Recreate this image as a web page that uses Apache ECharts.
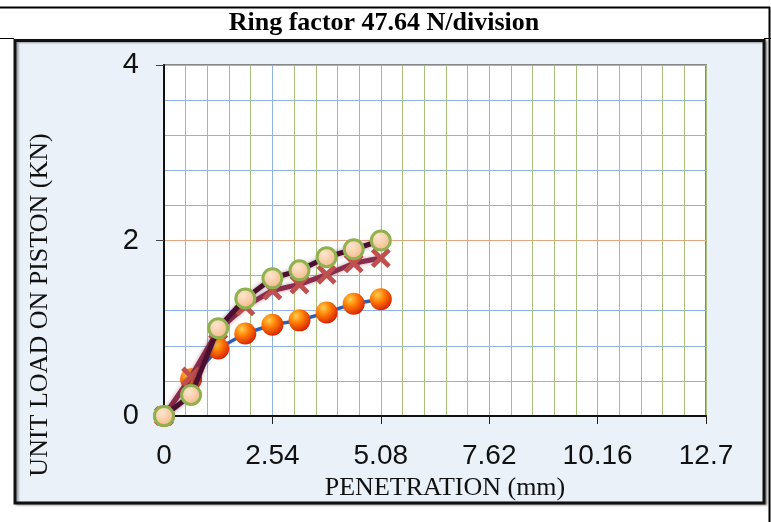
<!DOCTYPE html>
<html><head><meta charset="utf-8">
<script src="https://cdn.jsdelivr.net/npm/echarts@6/dist/echarts.min.js"></script>
<style>html,body{margin:0;padding:0;background:#fff}#c{width:771px;height:522px}</style>
</head><body><div id="c"></div>
<script>
var titleText = 'Ring factor 47.64 N/division';
var xTitle = 'PENETRATION (mm)';
var yTitle = 'UNIT LOAD ON PISTON (KN)';
var penetration = [0, 0.635, 1.27, 1.905, 2.54, 3.175, 3.81, 4.445, 5.08];
var loadA = [0, 0.24, 1.00, 1.34, 1.57, 1.66, 1.81, 1.90, 2.00];
var loadB = [0, 0.45, 0.98, 1.25, 1.43, 1.50, 1.61, 1.74, 1.80];
var loadC = [0, 0.42, 0.77, 0.94, 1.04, 1.09, 1.18, 1.28, 1.33];
var xTicks = [0, 2.54, 5.08, 7.62, 10.16, 12.7];
var yTicks = [0, 2, 4];

function pairs(xs, ys){ return xs.map(function(x,i){ return [x, ys[i]]; }); }

var xGridColors = [];
for (var i = 0; i <= 25; i++) xGridColors.push((i === 5 || i === 15) ? '#8fb2e0' : '#a7bf78');
var yGridColors = [];
for (var j = 0; j <= 10; j++) yGridColors.push(j === 5 ? '#e2a680' : '#8fb4e3');

var chart = echarts.init(document.getElementById('c'), null, {renderer: 'canvas'});
var sans = '"Liberation Sans", Arial, sans-serif';
var serif = '"Liberation Serif", "Times New Roman", serif';
var xPath = 'path://M0,1.7 L1.7,0 L5,3.3 L8.3,0 L10,1.7 L6.7,5 L10,8.3 L8.3,10 L5,6.7 L1.7,10 L0,8.3 L3.3,5 Z';

chart.setOption({
  animation: false,
  backgroundColor: '#fff',
  graphic: [
    {type: 'line', shape: {x1: 0, y1: 7.5, x2: 770, y2: 7.5}, style: {stroke: '#000', lineWidth: 2}, z: 0},
    {type: 'line', shape: {x1: 769.5, y1: 7, x2: 769.5, y2: 522}, style: {stroke: '#000', lineWidth: 2}, z: 0},
    {type: 'line', shape: {x1: 0, y1: 38.5, x2: 14, y2: 38.5}, style: {stroke: '#000', lineWidth: 1}, z: 0},
    {type: 'line', shape: {x1: 764, y1: 38.5, x2: 771, y2: 38.5}, style: {stroke: '#000', lineWidth: 1}, z: 0},
    {type: 'rect', shape: {x: 15, y: 40.5, width: 749, height: 462.5},
     style: {fill: '#eaf1f9', stroke: '#111', lineWidth: 3, shadowBlur: 2, shadowOffsetX: 2, shadowOffsetY: 1, shadowColor: 'rgba(0,0,0,0.35)'}, z: -10},
    {type: 'text', x: 40, y: 305, rotation: Math.PI / 2,
     style: {text: yTitle, font: '26px ' + serif, fill: '#111', align: 'center', verticalAlign: 'middle'}, z: 5},
    {type: 'text', x: 445, y: 488,
     style: {text: xTitle, font: '26px ' + serif, fill: '#111', align: 'center', verticalAlign: 'middle'}, z: 5},
    {type: 'text', x: 384, y: 23,
     style: {text: titleText, font: 'bold 26px ' + serif, fill: '#000', align: 'center', verticalAlign: 'middle'}, z: 5}
  ],
  grid: {left: 164, top: 65, right: 65, bottom: 106, show: true, backgroundColor: '#fff', borderColor: '#888', borderWidth: 2},
  xAxis: [
    {type: 'value', min: 0, max: 12.7, interval: 0.508, position: 'bottom',
     axisLine: {show: false}, axisTick: {show: false}, axisLabel: {show: false},
     splitLine: {show: true, lineStyle: {color: xGridColors, width: 1}}},
    {type: 'value', min: 0, max: 12.7, interval: 2.54, position: 'bottom',
     axisLine: {show: true, onZero: false, lineStyle: {color: '#111', width: 2}},
     axisTick: {show: true, length: 8, lineStyle: {color: '#222', width: 1}},
     axisLabel: {show: true, margin: 26, fontSize: 28, fontFamily: sans, color: '#111',
       formatter: function(v){ var r = Math.round(v*100)/100; return xTicks.indexOf(r) >= 0 ? String(r) : ''; }},
     splitLine: {show: false}}
  ],
  yAxis: [
    {type: 'value', min: 0, max: 4, interval: 0.4, position: 'left',
     axisLine: {show: false}, axisTick: {show: false}, axisLabel: {show: false},
     splitLine: {show: true, lineStyle: {color: yGridColors, width: 1}}},
    {type: 'value', min: 0, max: 4, interval: 2, position: 'left',
     axisLine: {show: true, onZero: false, lineStyle: {color: '#111', width: 2}},
     axisTick: {show: true, length: 8, lineStyle: {color: '#444', width: 1}},
     axisLabel: {show: true, margin: 25, fontSize: 29, fontFamily: sans, color: '#111',
       formatter: function(v){ return yTicks.indexOf(v) >= 0 ? String(v) : ''; }},
     splitLine: {show: false}}
  ],
  series: [
    {type: 'line', name: 'C', xAxisIndex: 0, yAxisIndex: 0, data: pairs(penetration, loadC),
     symbol: 'circle', symbolSize: 22, z: 2,
     lineStyle: {color: '#2f5fb5', width: 3.5, shadowBlur: 3, shadowColor: 'rgba(255,255,255,0.9)'},
     itemStyle: {color: new echarts.graphic.RadialGradient(0.35, 0.3, 0.75, [
       {offset: 0, color: '#ffcf50'}, {offset: 0.45, color: '#ff7a00'}, {offset: 1, color: '#d41e00'}]), borderWidth: 0}},
    {type: 'line', name: 'B', xAxisIndex: 0, yAxisIndex: 0, data: pairs(penetration, loadB),
     symbol: xPath, symbolSize: 20, z: 3,
     lineStyle: {color: '#8a2c4c', width: 5, shadowBlur: 4, shadowColor: 'rgba(120,30,60,0.45)'},
     itemStyle: {color: '#c0504d', borderWidth: 0}},
    {type: 'line', name: 'A', xAxisIndex: 0, yAxisIndex: 0, data: pairs(penetration, loadA),
     symbol: 'circle', symbolSize: 19, z: 4,
     lineStyle: {color: '#4a0f30', width: 5, shadowBlur: 4, shadowColor: 'rgba(70,10,40,0.45)'},
     itemStyle: {color: new echarts.graphic.RadialGradient(0.4, 0.35, 0.7, [
       {offset: 0, color: '#fde6cf'}, {offset: 1, color: '#f2b480'}]), borderColor: '#8fb24f', borderWidth: 3}}
  ]
});
</script></body></html>
